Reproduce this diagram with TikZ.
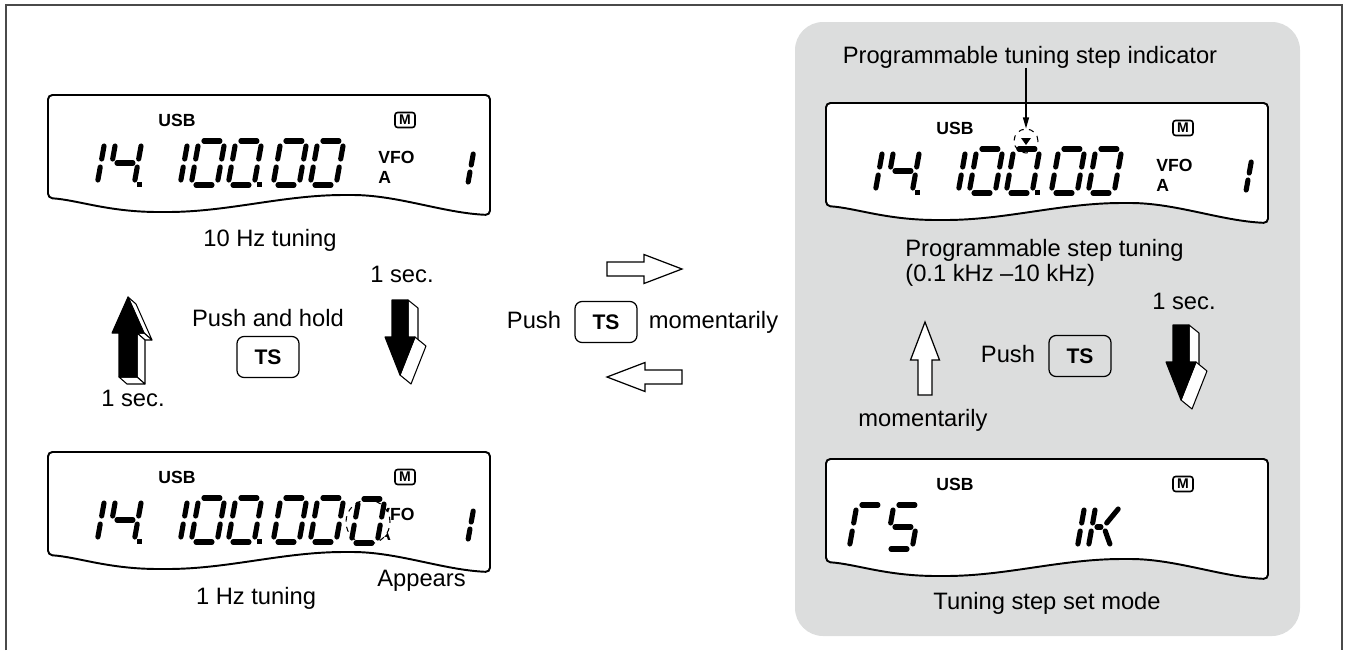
\documentclass[tikz,border=0pt]{standalone}
\usepackage{fontspec}
\setmainfont{Liberation Sans}
\usetikzlibrary{arrows.meta,positioning}
\definecolor{Panel}{HTML}{DCDDDD}
\definecolor{Frame}{HTML}{4A4A4A}
% seven segment pieces, cell origin at bottom left
\newcommand\sga{\draw[seg] (5,-44) -- (21,-44);}
\newcommand\sgb{\draw[seg] (26,-39) -- (26,-26);}
\newcommand\sgc{\draw[seg] (26,-18) -- (26,-5);}
\newcommand\sgd{\draw[seg] (5,0) -- (21,0);}
\newcommand\sge{\draw[seg] (0,-18) -- (0,-5);}
\newcommand\sgf{\draw[seg] (0,-39) -- (0,-26);}
\newcommand\sgg{\draw[seg] (5,-22) -- (21,-22);}
\newcommand\dgzero{\sga\sgb\sgc\sgd\sge\sgf}
\newcommand\dgone{\sgb\sgc}
\newcommand\dgfour{\sgf\sgg\sgb\sgc}
\newcommand\dgT{\sga\sge\sgf}
\newcommand\dgS{\sga\sgf\sgg\sgc\sgd}
\newcommand\dgK{\sge\sgf\draw[seg] (5,-22) -- (9,-22); \draw[seg] (14,-26) -- (23,-40); \draw[seg] (14,-18) -- (21,-5);}
\newcommand\dgt[3]{\begin{scope}[shift={(#1,#2)},xslant=.18]#3\end{scope}}
% display outline with USB and M marks
\newcommand\lcdbody[1]{%
 \draw[lcd] (0,60) -- (0,0) -- (442,0) -- (442,120) .. controls (395,118) and (350,100) .. (300,100)
   .. controls (235,100) and (180,117) .. (115,117) .. controls (60,117) and (30,105) .. (0,103) -- cycle;
 \node[lbl] (#1-usb) at (129,25) {USB};
 \node[mbox] (#1-m) at (357,25) {M};}
\newcommand\freqrow{%
 \dgt{23}{90}{\dgone}\dgt{60}{90}{\dgfour}\fill (89,87) rectangle (94,92);
 \dgt{106}{90}{\dgone}\dgt{143}{90}{\dgzero}\dgt{180}{90}{\dgzero}\fill (209,87) rectangle (214,92);
 \dgt{225}{90}{\dgzero}\dgt{262}{90}{\dgzero}}
\newcommand\vfoA[1]{%
 \node[lbl,anchor=west] (#1-vfo) at (330,62) {VFO};
 \node[lbl,anchor=west] (#1-a) at (330,82) {A};
 \begin{scope}[shift={(420,88)},xslant=.18]\draw[seg] (0,-29) -- (0,-18) (0,-11) -- (0,-1);\end{scope}}
% 3D block arrows, tip at (#1,#2)
\newcommand\uparr[2]{\begin{scope}[shift={(#1,#2)}]
 \filldraw[side] (0,0) -- (16,36) -- (24,43) -- (8,7) -- cycle;
 \filldraw[side] (16,36) -- (9,36) -- (17,43) -- (24,43) -- cycle;
 \filldraw[side] (9,36) -- (9,80) -- (17,87) -- (17,43) -- cycle;
 \filldraw[side] (9,80) -- (-9,80) -- (-1,87) -- (17,87) -- cycle;
 \filldraw[line width=.6pt,line join=round] (0,0) -- (16,36) -- (9,36) -- (9,80) -- (-9,80) -- (-9,36) -- (-16,36) -- cycle;
 \end{scope}}
\newcommand\dnarr[2]{\begin{scope}[shift={(#1,#2)}]
 \filldraw[side] (8,-75) -- (18,-67) -- (18,-30) -- (8,-38) -- cycle;
 \filldraw[side] (15,-38) -- (26,-29) -- (11,9) -- (0,0) -- cycle;
 \filldraw[line width=.6pt,line join=round] (0,0) -- (-15,-38) -- (-8,-38) -- (-8,-75) -- (8,-75) -- (8,-38) -- (15,-38) -- cycle;
 \end{scope}}
\newcommand\hollow[4]{\begin{scope}[shift={(#1,#2)},rotate=#3]
 \filldraw[hollow] (0,0) -- (-38,-14.5) -- (-38,-7) -- (-#4,-7) -- (-#4,7) -- (-38,7) -- (-38,14.5) -- cycle;
 \end{scope}}
\begin{document}
\begin{tikzpicture}[x=0.02cm,y=-0.02cm,
txt/.style={font=\fontsize{13.5}{14.2}\selectfont,inner sep=0pt,text height=1.8ex,text depth=.4ex},
lbl/.style={font=\fontsize{10}{11}\selectfont\bfseries,inner sep=0pt},
key/.style={draw,rounded corners=4pt,line width=.7pt,minimum width=1.24cm,minimum height=.82cm,font=\fontsize{12}{13}\selectfont\bfseries},
mbox/.style={draw,rounded corners=1.5pt,line width=.9pt,inner sep=0pt,minimum width=.4cm,minimum height=.3cm,font=\fontsize{8}{9}\selectfont\bfseries},
lcd/.style={draw,fill=white,line width=1.1pt,rounded corners=2.5pt},
seg/.style={line width=2.9pt,line cap=round},
side/.style={fill=white,draw,line width=.6pt,line join=round},
hollow/.style={fill=white,draw,line width=.7pt},
ring/.style={circle,draw,dashed,line width=.6pt,inner sep=0pt},
ptr/.style={-{Triangle[length=2.2mm,width=1.2mm]},line width=.7pt}]
\useasboundingbox (0,0) rectangle (1350,650);
\draw[line width=1.1pt,draw=Frame] (6,650) -- (6,5) -- (1342,5) -- (1342,650);
\fill[Panel,rounded corners=16pt] (795,22) rectangle (1300,636);

% left column: 10 Hz and 1 Hz tuning
\begin{scope}[shift={(48,95)}]
\lcdbody{ten}\freqrow\vfoA{ten}
\end{scope}
\node[txt] (tenhz) at (270,240) {10 Hz tuning};
\begin{scope}[shift={(48,452)}]
\lcdbody{one}\freqrow\vfoA{one}
\node[ring,fill=white,minimum size=.88cm] (newdig) at (320,70) {};
\dgt{303}{91}{\dgzero}
\end{scope}
\node[txt] (onehz) at (256,598) {1 Hz tuning};
\node[txt,anchor=west] (appears) at (377,580) {Appears};

\uparr{128}{297}
\dnarr{400}{375}
\node[txt] (secup) at (133,400) {1 sec.};
\node[txt] (secdn) at (402,276) {1 sec.};
\node[txt] (holdtxt) at (268,320) {Push and hold};
\node[key] (holdkey) at (268,357) {TS};

% middle
\hollow{682}{269}{0}{75}
\hollow{607}{377}{180}{75}
\node[key] (midkey) at (606,322) {TS};
\node[txt,left=.26cm of midkey] (midpush) {Push};
\node[txt,right=.22cm of midkey] (midmom) {momentarily};

% right panel: programmable step
\node[txt] (indlbl) at (1030,57) {Programmable tuning step indicator};
\begin{scope}[shift={(826,103)}]
\lcdbody{prog}\freqrow\vfoA{prog}
\node[ring,minimum size=.48cm] (ind) at (200,38) {};
\fill (195,35) -- (205,35) -- (200,42) -- cycle;
\end{scope}
\draw[ptr] (indlbl.south -| ind.north) -- (ind.north);
\node[txt,anchor=west] (prog1) at (905,250) {Programmable step tuning};
\node[txt,anchor=west] (prog2) at (905,275) {(0.1 kHz –10 kHz)};
\hollow{925}{322}{90}{73}
\dnarr{1181}{400}
\node[txt] (secr) at (1184,303) {1 sec.};
\node[key] (rkey) at (1080,356) {TS};
\node[txt,left=.26cm of rkey] (rpush) {Push};
\node[txt] (rmom) at (923,420) {momentarily};
\begin{scope}[shift={(826,459)}]
\lcdbody{set}
\dgt{23}{90}{\dgT}\dgt{60}{90}{\dgS}\dgt{225}{90}{\dgone}\dgt{262}{90}{\dgK}
\end{scope}
\node[txt] (setmode) at (1047,603) {Tuning step set mode};
\end{tikzpicture}
\end{document}
